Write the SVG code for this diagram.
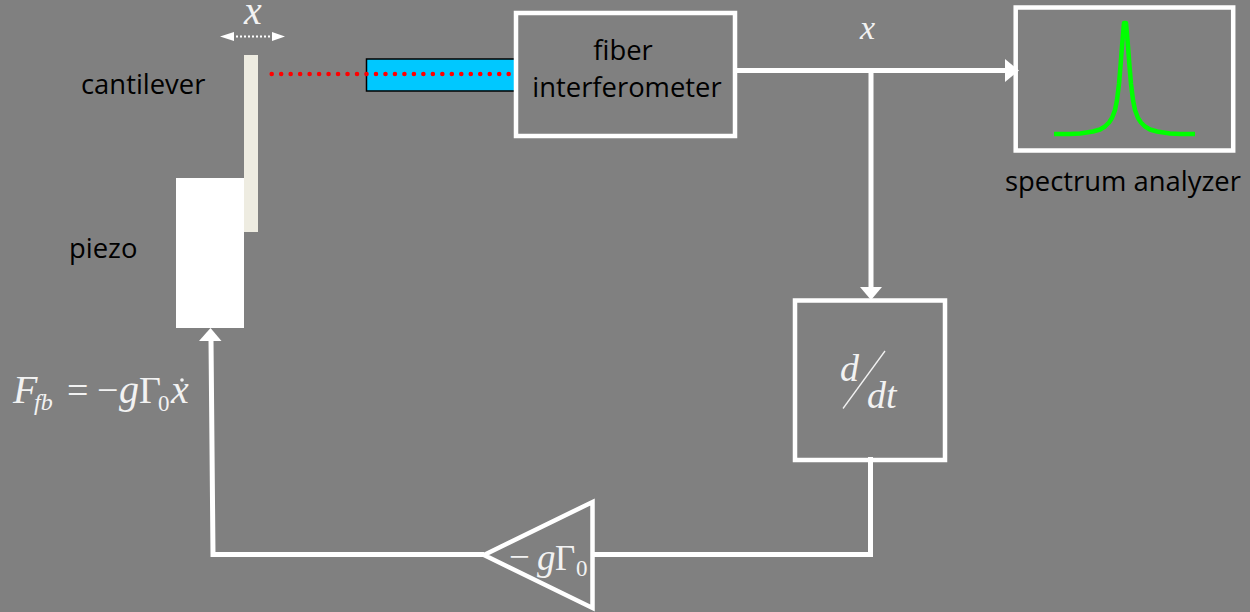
<svg xmlns="http://www.w3.org/2000/svg" width="1250" height="612" viewBox="0 0 1250 612">
<style>
.box{fill:none;stroke:#fff;stroke-width:4.5}
.wire{fill:none;stroke:#fff;stroke-width:5}
.lbl{font-family:"Open Sans","Noto Sans",sans-serif;font-size:27.400px;fill:#000}
.m{font-family:"Liberation Serif","Times New Roman",serif;fill:#f2f2f2}
.i{font-style:italic}
</style>
<rect width="1250" height="612" fill="#808080"/>
<g id="connectors">
<path class="wire" d="M735 70.500H1007"/><path d="M1005 59L1019 70.500L1005 82Z" fill="#fff"/>
<path class="wire" d="M871 70V287"/><path d="M860 287L871 300L882 287Z" fill="#fff"/>
<path class="wire" d="M870.500 457V554.500H594"/>
<path class="wire" d="M484 554.500H213L211 340"/><path d="M199 341L210.500 328L221.500 341Z" fill="#fff"/>
<path d="M220 36.500L234 32V41Z M285 36.500L272 32V41Z" fill="#fff"/>
<path d="M236 36.500H270" stroke="#fff" stroke-width="2" stroke-dasharray="2 2" fill="none"/>
</g>
<g id="cantilever"><rect x="244" y="55" width="14" height="177" fill="#eeece1"/><text class="lbl" x="81" y="94">cantilever</text></g>
<g id="piezo"><rect x="176" y="178" width="68" height="150" fill="#fff"/><text class="lbl" x="69" y="258">piezo</text></g>
<g id="fiber"><rect x="366.500" y="59" width="150" height="32" fill="#00c8ff" stroke="#000" stroke-width="1.500"/></g>
<g id="beam"><path d="M271.700 74H512" stroke="#f00" stroke-width="4.600" stroke-linecap="round" stroke-dasharray="0 9.480" fill="none"/></g>
<g id="interferometer"><rect x="516" y="13" width="219" height="123" fill="none" stroke="#fff" stroke-width="4.500"/><text class="lbl" x="623" y="60" text-anchor="middle">fiber</text><text class="lbl" x="627" y="97" text-anchor="middle">interferometer</text></g>
<g id="analyzer"><rect x="1015.700" y="7.500" width="217.500" height="143" class="box"/><path d="M1054 134H1070L1080 133.500L1093 131.500L1100 129.500L1105 126.500L1109 122.500L1112 118L1115 110L1117 100L1119 84L1120.500 66L1122.500 40L1124 23H1126L1127.500 40L1129.500 66L1131 84L1133 100L1135 110L1138 118L1141 122.500L1145 126.500L1150 129.500L1157 131.500L1170 133.500L1180 134H1195" fill="none" stroke="#0f0" stroke-width="4.500" stroke-linejoin="round"/><text class="lbl" x="1005" y="191">spectrum analyzer</text></g>
<g id="derivative"><rect x="795" y="300.500" width="150" height="159.500" class="box"/><text class="m i" x="840" y="381" font-size="38">d</text><text class="m i" x="867" y="408" font-size="38">dt</text><path d="M843 408.500L885 351" stroke="#f2f2f2" stroke-width="1.300"/></g>
<g id="amplifier"><path d="M484 555L592.500 502V608Z" fill="none" stroke="#fff" stroke-width="4.500"/><text class="m"><tspan x="509" y="569" font-size="37">−</tspan><tspan class="i" x="537" y="570" font-size="37">g</tspan><tspan x="555" y="570" font-size="35">Γ</tspan><tspan x="576" y="576" font-size="23">0</tspan></text></g>
<text class="m i" x="244" y="24" font-size="40">x</text>
<text class="m i" x="860" y="39" font-size="34">x</text>
<g id="equation"><text class="m"><tspan class="i" x="13" y="403" font-size="40">F</tspan><tspan class="i" x="34" y="410" font-size="24">fb</tspan><tspan x="67" y="403" font-size="38">=</tspan><tspan x="97" y="403" font-size="38">−</tspan><tspan class="i" x="119" y="403" font-size="40">g</tspan><tspan x="139" y="403" font-size="38">Γ</tspan><tspan x="158" y="411" font-size="23">0</tspan><tspan class="i" x="171" y="403" font-size="40">x</tspan></text><circle cx="182" cy="380" r="1.800" fill="#f2f2f2"/></g>
</svg>
